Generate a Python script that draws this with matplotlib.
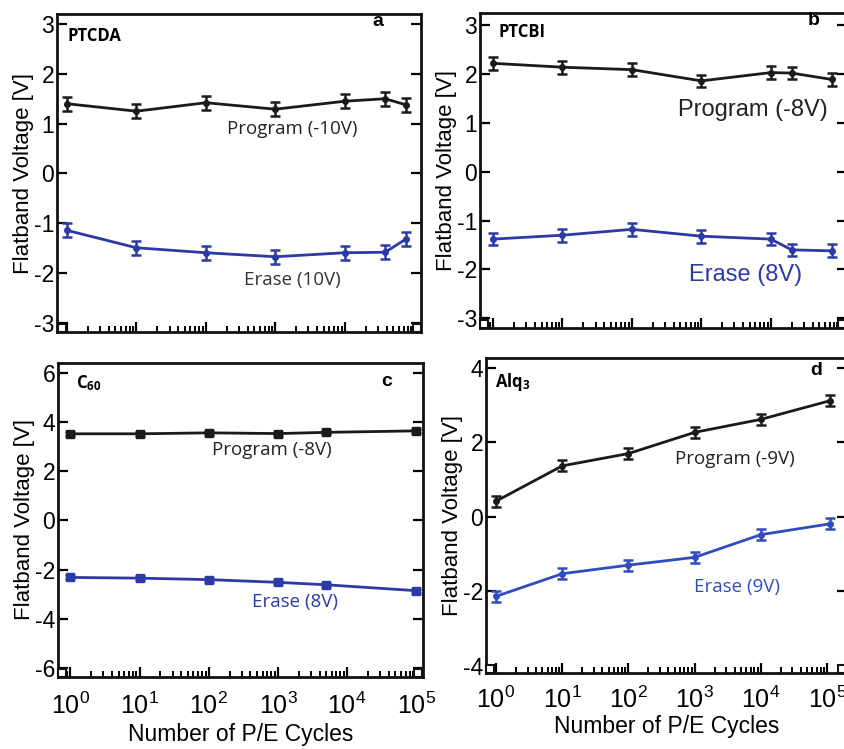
import matplotlib
matplotlib.use("Agg")
import matplotlib.pyplot as plt
import matplotlib.ticker as ticker
import matplotlib.transforms as mtransforms
import numpy as np

plt.rcParams['font.family'] = ['Liberation Sans', 'DejaVu Sans']
plt.rcParams['mathtext.fontset'] = 'custom'
plt.rcParams['mathtext.rm'] = 'Liberation Sans'
plt.rcParams['mathtext.it'] = 'Liberation Sans:italic'
plt.rcParams['mathtext.bf'] = 'Liberation Sans:bold'

BLACK = '#1a1a1a'
BLUE = '#2b3aa6'

# PTCDA (a)
cycles_a = [1, 10, 100, 1000, 1e4, 3.8e4, 7.5e4]
prog_a = [1.40, 1.25, 1.42, 1.29, 1.45, 1.50, 1.38]
erase_a = [-1.14, -1.49, -1.59, -1.67, -1.59, -1.58, -1.32]
err_a = 0.14

# PTCBI (b)
cycles_b = [1, 10, 100, 1000, 1e4, 2e4, 7.5e4]
prog_b = [2.22, 2.14, 2.09, 1.86, 2.03, 2.02, 1.89]
erase_b = [-1.38, -1.30, -1.18, -1.32, -1.38, -1.60, -1.62]
err_b = 0.13

# C60 (c)
cycles_c = [1, 10, 100, 1000, 5000, 1e5]
prog_c = [3.52, 3.52, 3.56, 3.53, 3.58, 3.64]
erase_c = [-2.32, -2.35, -2.41, -2.52, -2.62, -2.86]
err_c = 0.08

# Alq3 (d)
cycles_d = [1, 10, 100, 1000, 1e4, 1.1e5]
prog_d = [0.42, 1.37, 1.70, 2.27, 2.62, 3.12]
erase_d = [-2.14, -1.53, -1.30, -1.09, -0.48, -0.19]
err_d = 0.15

decade_ticks = [1, 10, 100, 1000, 1e4, 1e5]
decade_labels = [r'$\mathregular{10^{%d}}$' % i for i in range(6)]

W, H = 845, 749
fig = plt.figure(figsize=(W / 100, H / 100), dpi=100)


def px_axes(left, top, right, bottom):
    return fig.add_axes([left / W, 1 - bottom / H, (right - left) / W, (bottom - top) / H])


def style_axes(ax, ylim, yticks, xlim, show_xlabels, xpad=12, xlabelpad=0):
    ax.set_xscale('log')
    ax.set_xlim(*xlim)
    ax.set_ylim(*ylim)
    ax.set_yticks(yticks)
    ax.set_yticklabels([str(t) for t in yticks])
    for sp in ax.spines.values():
        sp.set_linewidth(2.0)
        sp.set_color('#111111')
    ax.xaxis.set_major_locator(ticker.FixedLocator(decade_ticks))
    ax.xaxis.set_minor_locator(ticker.LogLocator(base=10, subs=np.arange(2, 10)))
    ax.xaxis.set_minor_formatter(ticker.NullFormatter())
    ax.tick_params(axis='y', direction='in', length=7, width=1.6, left=True, right=True,
                   labelsize=16.5, pad=2)
    ax.tick_params(axis='x', which='major', direction='in', length=7, width=1.6,
                   top=False, pad=xpad)
    ax.tick_params(axis='x', which='minor', direction='in', length=4, width=1.4, top=False)
    if show_xlabels:
        ax.set_xticklabels(decade_labels, fontsize=18)
        ax.set_xlabel('Number of P/E Cycles', fontsize=16.5, labelpad=xlabelpad)
    else:
        ax.set_xticklabels([])
    ax.set_ylabel('Flatband Voltage [V]', fontsize=16, labelpad=0)
    # small corner boxes at both ends of the x axis
    for xc, dx in [(0, 4.5), (1, -4.5)]:
        off = mtransforms.ScaledTranslation(dx / 100, 4 / 100, fig.dpi_scale_trans)
        ax.plot([xc], [0], marker='s', ms=6, mfc='white', mec='#111111', mew=1.5,
                transform=ax.transAxes + off, clip_on=False, zorder=5)


def draw_series(ax, x, y, err, color, marker, ms):
    ax.errorbar(x, y, yerr=err, color=color, lw=2.0, marker=marker, ms=ms,
                elinewidth=1.8, capsize=3.5, capthick=1.8, zorder=3)


# panel a
ax_a = px_axes(57, 14, 421, 332)
draw_series(ax_a, cycles_a, prog_a, err_a, BLACK, 'o', 4)
draw_series(ax_a, cycles_a, erase_a, err_a, BLUE, 'o', 4)
style_axes(ax_a, (-3.18, 3.2), [-3, -2, -1, 0, 1, 2, 3], (0.72, 1.25e5), False)
ax_a.text(1750, 0.90, 'Program (-10V)', fontsize=13.5, family='Open Sans',
          color='#222222', ha='center', va='center')
ax_a.text(1750, -2.14, 'Erase (10V)', fontsize=13.5, family='Open Sans',
          color='#333333', ha='center', va='center')
ax_a.text(0.03, 0.93, 'PTCDA', transform=ax_a.transAxes, fontsize=12,
          family='Open Sans', weight='bold', va='center', ha='left')
ax_a.text(0.88, 0.975, 'a', transform=ax_a.transAxes, fontsize=14,
          weight='bold', va='center', ha='center')

# panel b
ax_b = px_axes(480, 13, 847, 328)
draw_series(ax_b, cycles_b, prog_b, err_b, BLACK, 'o', 4)
draw_series(ax_b, cycles_b, erase_b, err_b, BLUE, 'o', 4)
style_axes(ax_b, (-3.2, 3.25), [-3, -2, -1, 0, 1, 2, 3], (0.65, 1.25e5), False)
ax_b.text(5600, 1.26, 'Program (-8V)', fontsize=17, color='#222222',
          ha='center', va='center')
ax_b.text(4300, -2.11, 'Erase (8V)', fontsize=17, color=BLUE,
          ha='center', va='center')
ax_b.text(0.05, 0.94, 'PTCBI', transform=ax_b.transAxes, fontsize=12,
          family='Open Sans', weight='bold', va='center', ha='left')
ax_b.text(0.91, 0.975, 'b', transform=ax_b.transAxes, fontsize=14,
          weight='bold', va='center', ha='center')

# panel c
ax_c = px_axes(58, 363, 423, 677)
draw_series(ax_c, cycles_c, prog_c, err_c, BLACK, 's', 6)
draw_series(ax_c, cycles_c, erase_c, err_c, BLUE, 's', 6)
style_axes(ax_c, (-6.37, 6.4), [-6, -4, -2, 0, 2, 4, 6], (0.66, 1.25e5), True,
           xpad=11, xlabelpad=3)
ax_c.text(830, 2.87, 'Program (-8V)', fontsize=13.5, family='Open Sans',
          color='#222222', ha='center', va='center')
ax_c.text(1750, -3.3, 'Erase (8V)', fontsize=13.5, family='Open Sans',
          color=BLUE, ha='center', va='center')
ax_c.text(0.05, 0.936, r'C$_{\mathregular{60}}$', transform=ax_c.transAxes, fontsize=12,
          family='Open Sans', weight='bold', va='center', ha='left')
ax_c.text(0.90, 0.94, 'c', transform=ax_c.transAxes, fontsize=14,
          weight='bold', va='center', ha='center')

# panel d
ax_d = px_axes(486, 358, 847, 673)
draw_series(ax_d, cycles_d, prog_d, err_d, BLACK, 'o', 4)
draw_series(ax_d, cycles_d, erase_d, err_d, '#2f4cc0', 'o', 4)
style_axes(ax_d, (-4.2, 4.27), [-4, -2, 0, 2, 4], (0.706, 2.0e5), True,
           xpad=10, xlabelpad=1)
ax_d.text(4000, 1.55, 'Program (-9V)', fontsize=13.5, family='Open Sans',
          color='#222222', ha='center', va='center')
ax_d.text(4300, -1.89, 'Erase (9V)', fontsize=13.5, family='Open Sans',
          color='#2f4cc0', ha='center', va='center')
ax_d.text(0.025, 0.924, r'Alq$_{\mathregular{3}}$', transform=ax_d.transAxes, fontsize=12,
          family='Open Sans', weight='bold', va='center', ha='left')
ax_d.text(0.914, 0.96, 'd', transform=ax_d.transAxes, fontsize=14,
          weight='bold', va='center', ha='center')

fig.savefig('out.png', dpi=100)
